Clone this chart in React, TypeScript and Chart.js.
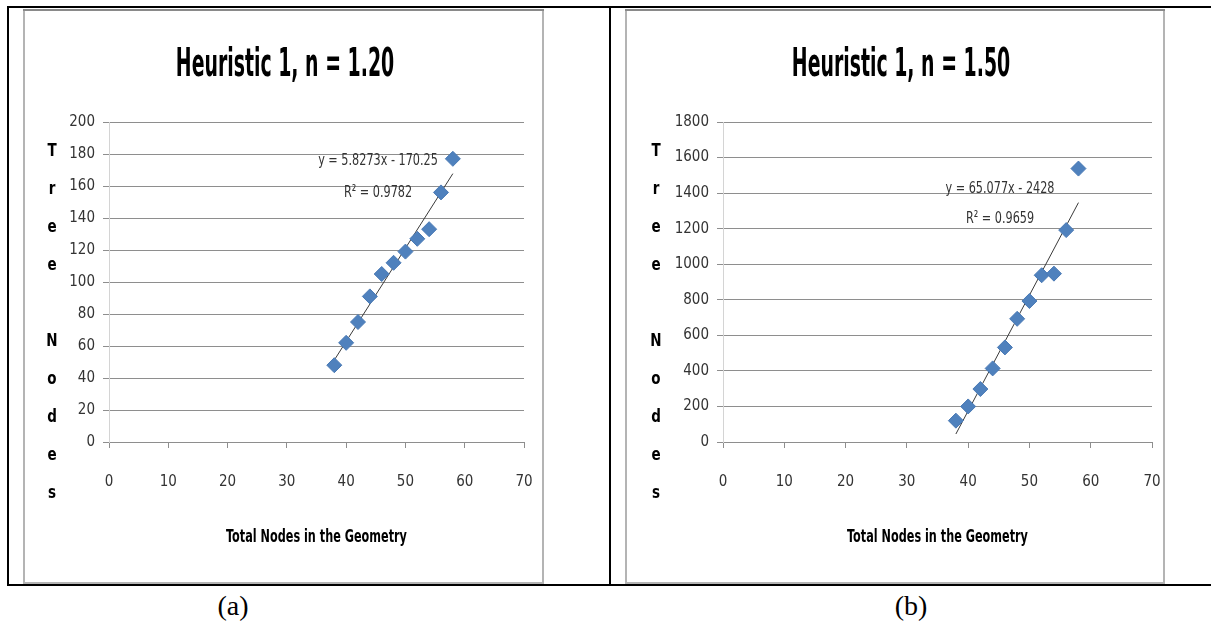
import React, { useEffect, useRef } from "react";
import { Chart, registerables } from "chart.js";

Chart.register(...registerables);

// ---------------- data ----------------
const totalNodes = [38, 40, 42, 44, 46, 48, 50, 52, 54, 56, 58];
const treeNodesA = [48, 62, 75, 91, 105, 112, 119, 127, 133, 156, 177];
const treeNodesB = [120, 200, 298, 414, 532, 693, 793, 938, 947, 1192, 1538];
const trendSlopeA = 5.8273;
const trendInterceptA = -170.25;
const trendSlopeB = 65.077;
const trendInterceptB = -2428;
const trendRange = [38, 58];
const titleA = "Heuristic 1, n = 1.20";
const titleB = "Heuristic 1, n = 1.50";
const equationA = ["y = 5.8273x - 170.25", "R² = 0.9782"];
const equationB = ["y = 65.077x - 2428", "R² = 0.9659"];
const xTickValues = [0, 10, 20, 30, 40, 50, 60, 70];
const yTickValuesA = [0, 20, 40, 60, 80, 100, 120, 140, 160, 180, 200];
const yTickValuesB = [0, 200, 400, 600, 800, 1000, 1200, 1400, 1600, 1800];
const xAxisTitle = "Total Nodes in the Geometry";
const yAxisTitle = "Tree Nodes";
const captionA = "(a)";
const captionB = "(b)";

const NARROW = '"Liberation Sans Narrow", "DejaVu Sans Condensed", "Arial Narrow", sans-serif';
const GRID = "#8e8e8e";
const TEXT = "#333333";
const Y_AXIS_W = 56;

type Panel = {
  left: number;
  width: number;
  title: string;
  titleX: number;
  values: number[];
  slope: number;
  intercept: number;
  yTicks: number[];
  equation: string[];
  eqPos: number[][];
  letterX: number;
  plotLeft: number;
  padRight: number;
};

const panels: Panel[] = [
  {
    left: 23,
    width: 521,
    title: titleA,
    titleX: 262,
    values: treeNodesA,
    slope: trendSlopeA,
    intercept: trendInterceptA,
    yTicks: yTickValuesA,
    equation: equationA,
    eqPos: [
      [269, 39],
      [269, 71],
    ],
    letterX: 29,
    plotLeft: 86,
    padRight: 20,
  },
  {
    left: 625,
    width: 540,
    title: titleB,
    titleX: 276,
    values: treeNodesB,
    slope: trendSlopeB,
    intercept: trendInterceptB,
    yTicks: yTickValuesB,
    equation: equationB,
    eqPos: [
      [277, 67],
      [277, 97],
    ],
    letterX: 31,
    plotLeft: 98,
    padRight: 13,
  },
];

const CANVAS_H = 575;

function stretchedText(
  ctx: CanvasRenderingContext2D,
  text: string,
  x: number,
  y: number,
  sy: number
) {
  ctx.save();
  ctx.translate(x, y);
  ctx.scale(1, sy);
  ctx.fillText(text, 0, 0);
  ctx.restore();
}

function ChartPanel({ p }: { p: Panel }) {
  const ref = useRef<HTMLCanvasElement | null>(null);
  useEffect(() => {
    if (!ref.current) return;
    const decor = {
      id: "decor",
      beforeDraw(chart: any) {
        const ctx = chart.ctx as CanvasRenderingContext2D;
        const w = chart.width;
        const h = chart.height;
        ctx.save();
        ctx.fillStyle = "#ffffff";
        ctx.fillRect(0, 0, w, h);
        ctx.strokeStyle = "#b4b4b4";
        ctx.lineWidth = 2;
        ctx.strokeRect(1, 1, w - 2, h - 2);
        ctx.strokeStyle = "#8a8a8a";
        ctx.beginPath();
        ctx.moveTo(0, 1);
        ctx.lineTo(w, 1);
        ctx.stroke();
        ctx.restore();
      },
      afterDraw(chart: any) {
        const ctx = chart.ctx as CanvasRenderingContext2D;
        const area = chart.chartArea;
        ctx.save();
        ctx.textAlign = "center";
        // title (tall, narrow lettering like the source)
        ctx.fillStyle = "#000000";
        ctx.font = `bold 21px ${NARROW}`;
        ctx.textBaseline = "alphabetic";
        stretchedText(ctx, p.title, p.titleX, 66.5, 1.9);
        // vertical stacked y-axis title
        ctx.textBaseline = "middle";
        ctx.font = `bold 15px ${NARROW}`;
        yAxisTitle.split("").forEach((c, i) => {
          if (c.trim()) stretchedText(ctx, c, p.letterX, 142 + i * 38, 1.2);
        });
        // x-axis title
        ctx.font = `bold 12.5px ${NARROW}`;
        stretchedText(ctx, xAxisTitle, (area.left + area.right) / 2, 528, 1.4);
        // trendline equation
        ctx.fillStyle = TEXT;
        ctx.font = `12.5px ${NARROW}`;
        p.equation.forEach((t, i) => {
          stretchedText(ctx, t, area.left + p.eqPos[i][0], area.top + p.eqPos[i][1], 1.3);
        });
        ctx.restore();
      },
    };

    const chart = new Chart(ref.current, {
      type: "scatter",
      data: {
        datasets: [
          {
            label: "Tree Nodes",
            data: totalNodes.map((x, i) => ({ x, y: p.values[i] })),
            pointStyle: "rectRot",
            pointRadius: 7.5,
            pointHoverRadius: 7.5,
            backgroundColor: "#4f81bd",
            borderColor: "#4a7ab5",
            borderWidth: 1,
          },
          {
            type: "line",
            label: "Linear",
            data: trendRange.map((x) => ({ x, y: p.slope * x + p.intercept })),
            borderColor: "#3a3a3a",
            borderWidth: 1,
            pointRadius: 0,
            showLine: true,
            fill: false,
          } as any,
        ],
      },
      options: {
        responsive: false,
        animation: false,
        devicePixelRatio: 1,
        layout: {
          padding: { left: p.plotLeft - Y_AXIS_W, right: p.padRight, top: 113, bottom: 92 },
        },
        plugins: {
          legend: { display: false },
          tooltip: { enabled: false },
          title: { display: false },
        },
        scales: {
          x: {
            type: "linear",
            min: xTickValues[0],
            max: xTickValues[xTickValues.length - 1],
            afterBuildTicks: (s: any) => {
              s.ticks = xTickValues.map((v) => ({ value: v }));
            },
            afterFit: (s: any) => {
              s.height = 50;
            },
            ticks: {
              padding: 2,
              color: TEXT,
              font: { family: NARROW, size: 15, lineHeight: 4.3 },
              callback: (v: any) => String(v),
            },
            grid: { drawOnChartArea: false, drawTicks: true, tickLength: 6, color: GRID },
            border: { color: GRID, width: 1 },
          },
          y: {
            type: "linear",
            min: p.yTicks[0],
            max: p.yTicks[p.yTicks.length - 1],
            afterBuildTicks: (s: any) => {
              s.ticks = p.yTicks.map((v) => ({ value: v }));
            },
            afterFit: (s: any) => {
              s.width = Y_AXIS_W;
            },
            ticks: {
              padding: 8,
              color: TEXT,
              font: { family: NARROW, size: 15 },
              callback: (v: any) => String(v),
            },
            grid: { color: GRID, tickLength: 6, drawTicks: true },
            border: { color: "#d4d4d4", width: 1 },
          },
        },
      } as any,
      plugins: [decor],
    });
    return () => chart.destroy();
  }, [p]);
  return (
    <canvas
      ref={ref}
      width={p.width}
      height={CANVAS_H}
      style={{ position: "absolute", left: p.left, top: 9, width: p.width, height: CANVAS_H }}
    />
  );
}

export default function App() {
  const line = (l: number, t: number, w: number, h: number) => ({
    position: "absolute" as const,
    left: l,
    top: t,
    width: w,
    height: h,
    background: "#000",
  });
  const caption = (cx: number) => ({
    position: "absolute" as const,
    left: cx - 40,
    width: 80,
    top: 589,
    textAlign: "center" as const,
    fontFamily: '"Liberation Serif", "Times New Roman", serif',
    fontSize: 28,
    lineHeight: "34px",
    color: "#000",
  });
  return (
    <div
      style={{
        position: "absolute",
        left: 0,
        top: 0,
        width: 1211,
        height: 625,
        background: "#fff",
        overflow: "hidden",
      }}
    >
      {panels.map((p, i) => (
        <ChartPanel key={i} p={p} />
      ))}
      <div style={line(7, 6, 1204, 2)} />
      <div style={line(7, 6, 2, 580)} />
      <div style={line(609, 6, 2, 580)} />
      <div style={line(7, 584, 1204, 2)} />
      <div style={caption(233)}>{captionA}</div>
      <div style={caption(911)}>{captionB}</div>
    </div>
  );
}
